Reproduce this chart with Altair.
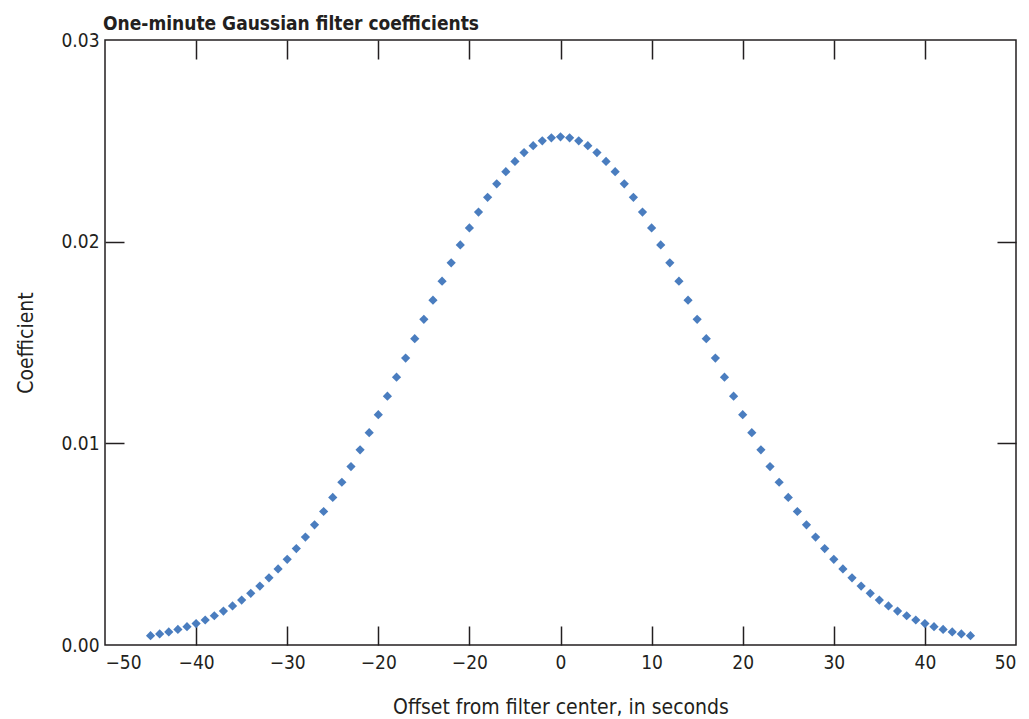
import altair as alt
import pandas as pd

# Offsets (seconds) and filter coefficients
offsets = [-45, -44, -43, -42, -41, -40, -39, -38, -37, -36, -35, -34, -33, -32, -31,
           -30, -29, -28, -27, -26, -25, -24, -23, -22, -21, -20, -19, -18, -17, -16,
           -15, -14, -13, -12, -11, -10, -9, -8, -7, -6, -5, -4, -3, -2, -1,
           0, 1, 2, 3, 4, 5, 6, 7, 8, 9, 10, 11, 12, 13, 14, 15, 16, 17, 18, 19, 20,
           21, 22, 23, 24, 25, 26, 27, 28, 29, 30, 31, 32, 33, 34, 35, 36, 37, 38, 39,
           40, 41, 42, 43, 44, 45]
coefficients = [0.00046, 0.00055, 0.00065, 0.00077, 0.00091, 0.00106, 0.00124, 0.00145,
                0.00168, 0.00194, 0.00223, 0.00256, 0.00292, 0.00333, 0.00377, 0.00425,
                0.00478, 0.00535, 0.00596, 0.00662, 0.00732, 0.00807, 0.00885, 0.00968,
                0.01053, 0.01142, 0.01234, 0.01328, 0.01423, 0.01519, 0.01615, 0.01710,
                0.01804, 0.01895, 0.01984, 0.02068, 0.02147, 0.02220, 0.02287, 0.02347,
                0.02398, 0.02442, 0.02476, 0.02500, 0.02515,
                0.02520,
                0.02515, 0.02500, 0.02476, 0.02442, 0.02398, 0.02347, 0.02287, 0.02220,
                0.02147, 0.02068, 0.01984, 0.01895, 0.01804, 0.01710, 0.01615, 0.01519,
                0.01423, 0.01328, 0.01234, 0.01142, 0.01053, 0.00968, 0.00885, 0.00807,
                0.00732, 0.00662, 0.00596, 0.00535, 0.00478, 0.00425, 0.00377, 0.00333,
                0.00292, 0.00256, 0.00223, 0.00194, 0.00168, 0.00145, 0.00124, 0.00106,
                0.00091, 0.00077, 0.00065, 0.00055, 0.00046]

x_label_values = [-50, -40, -30, -20, -10, 0, 10, 20, 30, 40, 50]
x_label_texts = ["\u221250", "\u221240", "\u221230", "\u221220", "\u221220",
                 "0", "10", "20", "30", "40", "50"]
x_tick_values = [-40, -30, -20, -10, 0, 10, 20, 30, 40]
y_label_values = [0.0, 0.01, 0.02, 0.03]
y_tick_values = [0.01, 0.02]

df = pd.DataFrame({"offset": offsets, "coef": coefficients})

FONT = "DejaVu Sans Condensed, Liberation Sans Narrow, sans-serif"
INK = "#231f20"
TICK = 19

label_expr = "{0}[indexof({1}, datum.value)]".format(
    "[" + ",".join("'" + t + "'" for t in x_label_texts) + "]",
    "[" + ",".join(str(v) for v in x_label_values) + "]",
)

xscale = alt.Scale(domain=[-50, 50], nice=False, zero=False)
yscale = alt.Scale(domain=[0, 0.03], nice=False, zero=False)

base = alt.Chart(df)

points = base.mark_point(shape="diamond", filled=True, size=85, opacity=1,
                         color="#4a7dbf").encode(
    x=alt.X("offset:Q", scale=xscale,
            axis=alt.Axis(orient="bottom", values=x_label_values, labelExpr=label_expr,
                          ticks=False, domain=False, grid=False, labelPadding=8,
                          title="Offset from filter center, in seconds",
                          titleY=68, titleBaseline="alphabetic")),
    y=alt.Y("coef:Q", scale=yscale,
            axis=alt.Axis(orient="left", values=y_label_values, format=".2f",
                          ticks=False, domain=False, grid=False, labelPadding=6,
                          title="Coefficient", titleX=-73, titleY=302.5,
                          titleAngle=270, titleBaseline="alphabetic")),
)

ticks_bl = base.mark_point(opacity=0).encode(
    x=alt.X("offset:Q", scale=xscale,
            axis=alt.Axis(orient="bottom", values=x_tick_values, labels=False,
                          domain=False, grid=False, ticks=True, tickSize=TICK,
                          offset=-TICK, title=None)),
    y=alt.Y("coef:Q", scale=yscale,
            axis=alt.Axis(orient="left", values=y_tick_values, labels=False,
                          domain=False, grid=False, ticks=True, tickSize=TICK,
                          offset=-TICK, title=None)),
)

ticks_tr = base.mark_point(opacity=0).encode(
    x=alt.X("offset:Q", scale=xscale,
            axis=alt.Axis(orient="top", values=x_tick_values, labels=False,
                          domain=False, grid=False, ticks=True, tickSize=TICK,
                          offset=-TICK, title=None)),
    y=alt.Y("coef:Q", scale=yscale,
            axis=alt.Axis(orient="right", values=y_tick_values, labels=False,
                          domain=False, grid=False, ticks=True, tickSize=TICK,
                          offset=-TICK, title=None)),
)

chart = alt.layer(points, ticks_bl, ticks_tr).resolve_axis(
    x="independent", y="independent"
).properties(
    width=911,
    height=605,
    title=alt.TitleParams("One-minute Gaussian filter coefficients", anchor="start",
                          frame="group", font=FONT, fontSize=19, fontWeight="bold",
                          color=INK, offset=10, dy=13, dx=-2),
    autosize=alt.AutoSizeParams(type="none"),
    padding={"left": 97, "top": 32, "right": 5, "bottom": 75},
).configure_view(
    stroke=INK, strokeWidth=1.5
).configure_axis(
    labelFont=FONT, labelFontSize=19, labelColor=INK,
    titleFont=FONT, titleFontSize=21, titleColor=INK, titleFontWeight="normal",
    tickColor=INK, tickWidth=1.5,
)

chart.save("out.html", embed_options={"renderer": "svg", "actions": False})
